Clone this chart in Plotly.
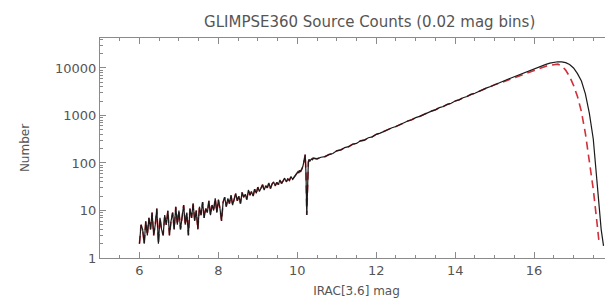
import plotly.graph_objects as go

# ---- data ----
noisy_mag = [round(6.00 + 0.04 * i, 2) for i in range(100)]
noisy_counts = [
    2, 5, 4, 2, 6, 3, 7, 4, 9, 3, 5, 11, 2, 7, 4, 3, 8, 5, 10, 3, 6, 9, 4, 12, 5,
    10, 4, 8, 13, 5, 9, 3, 11, 7, 14, 6, 10, 4, 12, 8, 15, 7, 11, 9, 16, 8, 13, 10, 18, 9,
    17, 11, 6, 15, 19, 12, 18, 14, 21, 13, 17, 23, 16, 20, 14, 24, 19, 22, 17, 27, 21, 25, 20, 28, 23,
    31, 25, 29, 35, 27, 33, 30, 38, 29, 36, 40, 33, 39, 35, 44, 37, 42, 48, 40, 46, 43, 52, 45, 50, 56,
]
spike_mag = [round(10.00 + 0.02 * i, 2) for i in range(21)]
spike_counts = [60, 66, 61, 70, 65, 74, 76, 84, 95, 120, 150, 60, 8, 40, 105, 118, 110, 116, 122, 117, 126]

mid_mag = [round(10.5 + 0.1 * i, 1) for i in range(46)]
mid_counts = [
    122, 132, 136, 150, 158, 180, 188, 210, 220, 248, 258, 292, 302, 340, 355, 400,
    425, 468, 498, 552, 585, 648, 690, 765, 810, 900, 955, 1050, 1120, 1235, 1310,
    1460, 1545, 1710, 1810, 2010, 2130, 2360, 2500, 2770, 2940, 3240, 3460, 3800, 4060, 4450,
]

tail_mag = [15.2, 15.4, 15.6, 15.8, 16.0, 16.2, 16.3, 16.4, 16.5, 16.6, 16.7, 16.8, 16.9,
            17.0, 17.1, 17.2, 17.3, 17.4, 17.5, 17.6, 17.7, 17.76]
black_tail = [5200, 6050, 7050, 8300, 9600, 11100, 11900, 12600, 13200, 13500, 13400, 12900, 11800,
              10000, 7600, 5300, 2850, 1120, 320, 40, 4, 1.8]

red_tail_mag = [15.2, 15.4, 15.6, 15.8, 16.0, 16.2, 16.3, 16.4, 16.5, 16.6, 16.7, 16.8, 16.9,
                16.95, 17.0, 17.1, 17.2, 17.3, 17.4, 17.5, 17.6, 17.65]
red_tail = [5050, 5800, 6700, 7800, 9000, 10200, 10900, 11400, 11900, 12000, 11000, 9000, 6600,
            5400, 4300, 2500, 1200, 420, 112, 28, 5, 2]

x_ticks = [6, 8, 10, 12, 14, 16, 18]
y_ticks = [1, 10, 100, 1000, 10000]
y_ticktext = ["1", "10", "100", "1000", "10000"]

black_mag = noisy_mag + spike_mag + mid_mag + tail_mag
black_counts = noisy_counts + spike_counts + mid_counts + black_tail
red_mag = noisy_mag + spike_mag + mid_mag + red_tail_mag
red_counts = noisy_counts + spike_counts + mid_counts + red_tail

y_minor = [m * d for d in y_ticks for m in range(2, 10)]

fig = go.Figure()
fig.add_trace(go.Scatter(x=red_mag, y=red_counts, mode="lines",
                         line=dict(color="#d0303a", width=1.6, dash="8px,5px"), showlegend=False))
fig.add_trace(go.Scatter(x=black_mag, y=black_counts, mode="lines",
                         line=dict(color="#1a1a1a", width=1.2), showlegend=False))

font_family = "DejaVu Sans, Liberation Sans, sans-serif"
axis_col = "#8a8a8a"

fig.update_layout(
    width=613, height=308,
    margin=dict(l=92, r=8, t=30, b=58),
    paper_bgcolor="white", plot_bgcolor="white",
    font=dict(family=font_family, color="#555", size=12),
    title=dict(text="GLIMPSE360 Source Counts (0.02 mag bins)", x=0.59, xanchor="center",
               y=0.955, yanchor="middle", font=dict(size=15, color="#555", family=font_family)),
)
fig.update_xaxes(
    range=[5, 18], tickvals=x_ticks, ticks="inside", ticklen=6, tickcolor=axis_col,
    showline=True, linecolor=axis_col, linewidth=1, mirror="allticks", showgrid=False, zeroline=False,
    minor=dict(ticks="inside", ticklen=3, dtick=0.5, tickcolor=axis_col),
    title=dict(text="IRAC[3.6] mag", font=dict(size=12, color="#555"), standoff=10),
    tickfont=dict(size=13, color="#555"),
)
fig.update_yaxes(
    type="log", range=[0, 4.63], tickvals=y_ticks, ticktext=y_ticktext,
    ticks="inside", ticklen=6, tickcolor=axis_col,
    showline=True, linecolor=axis_col, linewidth=1, mirror="allticks", showgrid=False, zeroline=False,
    minor=dict(ticks="inside", ticklen=3, tickcolor=axis_col, tickvals=y_minor),
    title=dict(text="Number", font=dict(size=12, color="#555"), standoff=22),
    tickfont=dict(size=13, color="#555"),
)

fig.write_html("out.html")
